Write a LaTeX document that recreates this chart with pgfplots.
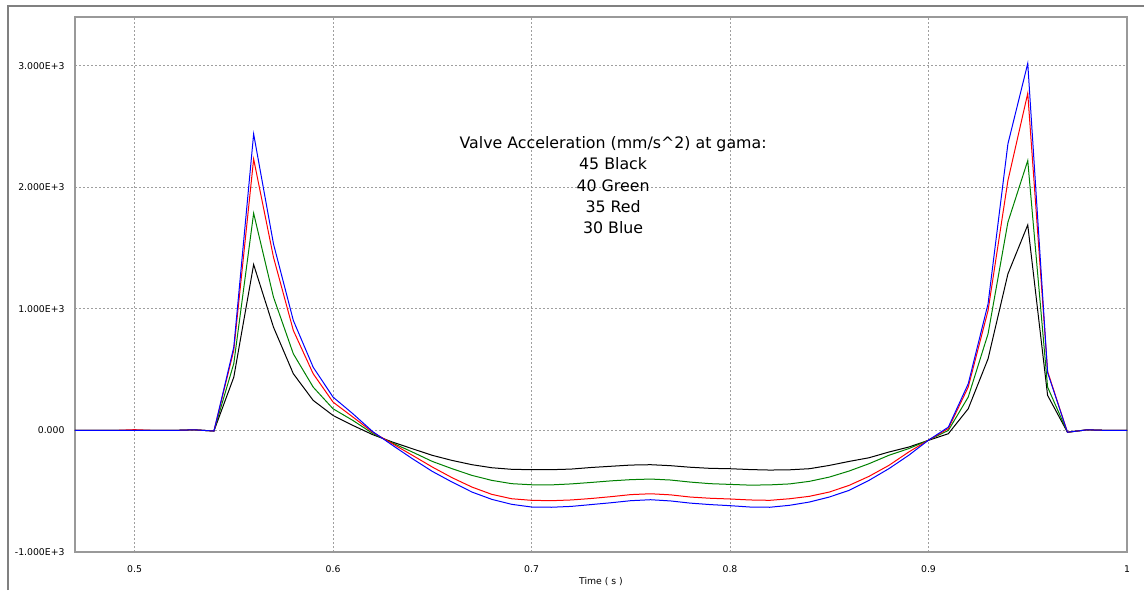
\documentclass[border=0pt]{standalone}
\usepackage{pgfplots}
\pgfplotsset{compat=1.18}
\usepackage{pgfplotstable}
\usepackage{fontspec}
\setmainfont{DejaVu Sans}
\definecolor{plotgreen}{RGB}{0,128,0}

\pgfplotstableread{
t black green red blue
0.47 0 0 0 0
0.48 0 0 0 0
0.49 0 0 0 0
0.50 0 0 6 0
0.51 0 0 0 0
0.52 0 0 0 0
0.53 5 5 5 5
0.54 -5 -5 -5 -5
0.55 438 550 660 685
0.56 1364 1786 2232 2438
0.57 849 1096 1424 1534
0.58 466 630 822 904
0.59 247 356 466 520
0.60 123 178 233 274
0.61 41 82 110 137
0.62 -35 -25 -15 -10
0.63 -96 -104 -110 -123
0.64 -151 -178 -205 -233
0.65 -205 -255 -301 -337
0.66 -247 -315 -389 -425
0.67 -282 -370 -466 -507
0.68 -307 -411 -526 -567
0.69 -320 -438 -562 -608
0.70 -323 -447 -575 -630
0.71 -323 -448 -578 -632
0.72 -318 -440 -572 -625
0.73 -305 -428 -560 -610
0.74 -295 -415 -545 -595
0.75 -285 -405 -528 -578
0.76 -282 -400 -521 -570
0.77 -290 -408 -530 -580
0.78 -303 -425 -548 -598
0.79 -312 -438 -558 -610
0.80 -315 -444 -564 -619
0.81 -322 -450 -572 -630
0.82 -326 -448 -575 -632
0.83 -324 -440 -562 -616
0.84 -315 -419 -542 -589
0.85 -288 -384 -507 -548
0.86 -255 -334 -452 -493
0.87 -225 -274 -378 -411
0.88 -178 -205 -288 -315
0.89 -137 -150 -178 -205
0.90 -82 -80 -80 -80
0.91 -27 0 15 27
0.92 178 274 356 383
0.93 589 794 986 1041
0.94 1287 1712 2054 2356
0.95 1690 2219 2772 3018
0.96 288 356 485 475
0.97 -15 -15 -15 -15
0.98 5 5 5 5
0.99 0 0 0 0
1.00 0 0 0 0
}\data

\begin{document}
\begin{tikzpicture}[x=1pt,y=1pt]
\useasboundingbox (0,0) rectangle (1144,590);
\draw[gray, line width=1.2pt] (8,0) -- (8,584) -- (1144,584);
\begin{axis}[
  at={(75pt,38pt)}, anchor=south west,
  scale only axis, width=1052pt, height=535pt,
  xmin=0.47, xmax=1.0, ymin=-1000, ymax=3400,
  xtick={0.5,0.6,0.7,0.8,0.9,1},
  xticklabels={0.5,0.6,0.7,0.8,0.9,1},
  ytick={-1000,0,1000,2000,3000},
  yticklabels={-1.000E+3,0.000,1.000E+3,2.000E+3,3.000E+3},
  grid=major,
  major grid style={gray!75, dash pattern=on 2pt off 2pt, line width=0.9pt},
  axis line style={gray!80, line width=1.5pt},
  major tick length=0pt,
  tick label style={font=\fontsize{9.3}{10}\selectfont},
  xticklabel style={yshift=-10pt},
  yticklabel style={xshift=-7pt},
  xlabel={Time ( s )},
  xlabel style={font=\fontsize{9.3}{10}\selectfont, at={(axis description cs:0.5,0)}, anchor=center, yshift=-30pt},
  every axis plot/.append style={line width=1pt},
]
\addplot[black] table[x=t,y=black] {\data};
\addplot[plotgreen] table[x=t,y=green] {\data};
\addplot[red] table[x=t,y=red] {\data};
\addplot[blue] table[x=t,y=blue] {\data};
\node[align=center, font=\fontsize{15.8}{21.4}\selectfont, inner sep=0pt] at (axis cs:0.7411,2017)
  {Valve Acceleration (mm/s\textasciicircum 2) at gama:\\45 Black\\40 Green\\35 Red\\30 Blue};
\end{axis}
\end{tikzpicture}
\end{document}
